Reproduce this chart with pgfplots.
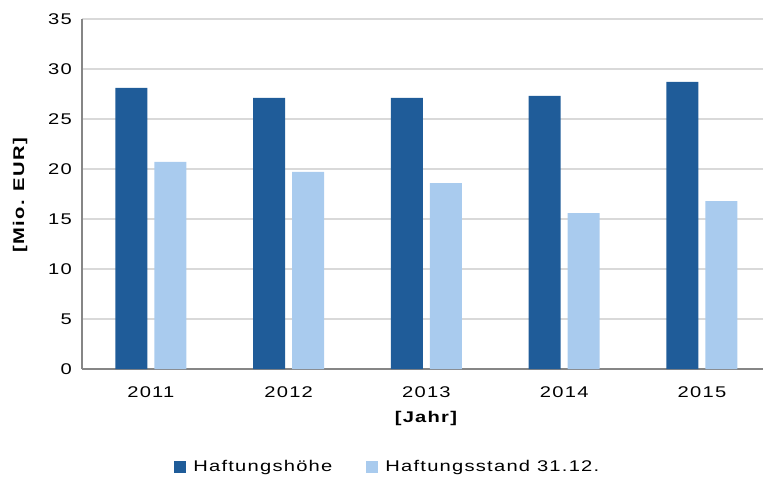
\documentclass[border=0pt]{standalone}
\usepackage{fontspec}
\setmainfont{Liberation Sans}[FakeStretch=1.3,LetterSpace=8]
\usepackage{pgfplots}
\pgfplotsset{compat=1.18}
\definecolor{dblue}{HTML}{1F5C99}
\definecolor{lblue}{HTML}{A9CBEE}
\definecolor{gridc}{HTML}{D9D9D9}
\definecolor{axc}{HTML}{868686}
\begin{document}
\begin{tikzpicture}
\path[use as bounding box] (0,0) rectangle (763pt,477pt);
\begin{axis}[
  at={(82pt,108pt)}, anchor=south west,
  scale only axis, width=681pt, height=350pt,
  ybar=7pt, bar width=32pt,
  ymin=0, ymax=35, ytick={0,5,...,35},
  xmin=-0.5, xmax=4.443,
  xtick={0,1,2,3,4}, xticklabels={2011,2012,2013,2014,2015},
  axis lines*=left,
  axis line style={-, draw=axc, line width=1.5pt},
  ymajorgrids, grid style={draw=gridc, line width=1.5pt},
  major tick length=0pt,
  /pgf/number format/assume math mode=true,
  tick label style={font=\fontsize{15.5}{18}\selectfont, text=black},
  yticklabel style={anchor=east, inner sep=0pt, xshift=-10pt},
  xticklabel style={anchor=north, inner sep=0pt, yshift=-17pt},
  every axis x label/.style={at={(axis description cs:0.505,0)}, anchor=center, yshift=-49pt, font=\fontsize{15.5}{18}\selectfont\bfseries},
  every axis y label/.style={at={(axis description cs:-0.091,0.497)}, rotate=90, anchor=center, font=\fontsize{15.5}{18}\selectfont\bfseries},
  xlabel={[Jahr]}, ylabel={[Mio. EUR]},
  legend style={at={(0.449,-0.28)}, anchor=center, draw=none, legend columns=2,
    font=\fontsize{15.5}{18}\selectfont,
    /tikz/every odd column/.append style={column sep=5pt},
    /tikz/every even column/.append style={column sep=32pt}},
  legend image code/.code={\fill[#1] (0pt,-5.5pt) rectangle (12pt,6.5pt);},
]
\addplot[fill=dblue, draw=none] coordinates {(0,28.1) (1,27.1) (2,27.1) (3,27.3) (4,28.7)};
\addplot[fill=lblue, draw=none] coordinates {(0,20.7) (1,19.7) (2,18.6) (3,15.6) (4,16.8)};
\legend{Haftungshöhe, Haftungsstand 31.12.}
\end{axis}
\end{tikzpicture}
\end{document}
